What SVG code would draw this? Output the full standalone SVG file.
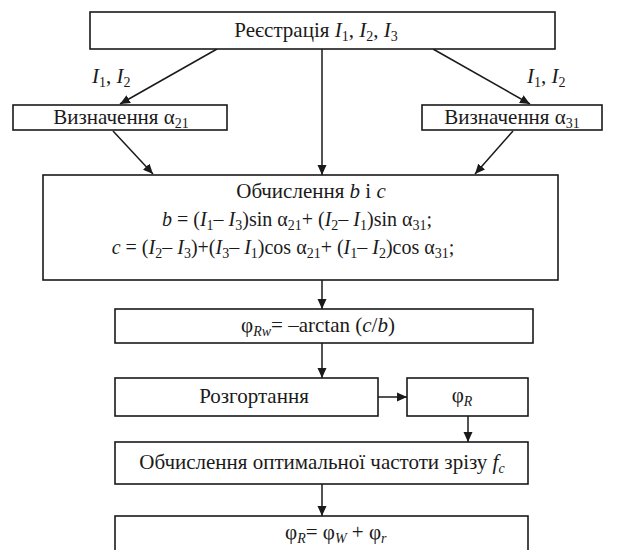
<svg xmlns="http://www.w3.org/2000/svg" width="638" height="550" viewBox="0 0 638 550">
<defs>
<marker id="ah" viewBox="0 0 10 10" refX="10" refY="5" markerWidth="10" markerHeight="10" markerUnits="userSpaceOnUse" orient="auto">
<path d="M0,0.5 L10,5 L0,9.5 Z" fill="#1a1a1a"/>
</marker>
<style>
.box{fill:#fff;stroke:#1a1a1a;stroke-width:1.6}
.t{font-family:"Liberation Serif","Times New Roman",serif;font-size:21px;fill:#1a1a1a}
.f{font-size:20px}
.c{text-anchor:middle}
.i{font-style:italic}
.s{font-size:14px}
.conn line{stroke:#1a1a1a;stroke-width:1.5;marker-end:url(#ah)}
</style>
</defs>
<rect width="638" height="550" fill="#fff"/>
<g class="conn">
<line x1="217" y1="49" x2="120" y2="104"/>
<line x1="433" y1="49" x2="530" y2="104"/>
<line x1="322" y1="49" x2="322" y2="175"/>
<line x1="113" y1="131" x2="153" y2="174"/>
<line x1="513" y1="131" x2="475" y2="174"/>
<line x1="322" y1="280" x2="322" y2="309"/>
<line x1="322" y1="343" x2="322" y2="378"/>
<line x1="378" y1="397" x2="407" y2="397"/>
<line x1="468" y1="416" x2="468" y2="442"/>
<line x1="322" y1="484" x2="322" y2="516"/>
</g>
<g id="reg">
<rect class="box" x="90" y="12" width="465" height="37"/>
<text class="t c" x="316" y="37">Реєстрація <tspan class="i">I</tspan><tspan class="s" dy="4">1</tspan><tspan dy="-4">, </tspan><tspan class="i">I</tspan><tspan class="s" dy="4">2</tspan><tspan dy="-4">, </tspan><tspan class="i">I</tspan><tspan class="s" dy="4">3</tspan></text>
</g>
<g id="lbl-left">
<text class="t" x="92" y="83"><tspan class="i">I</tspan><tspan class="s" dy="4">1</tspan><tspan dy="-4">, </tspan><tspan class="i">I</tspan><tspan class="s" dy="4">2</tspan></text>
</g>
<g id="lbl-right">
<text class="t" x="527" y="83"><tspan class="i">I</tspan><tspan class="s" dy="4">1</tspan><tspan dy="-4">, </tspan><tspan class="i">I</tspan><tspan class="s" dy="4">2</tspan></text>
</g>
<g id="a21">
<rect class="box" x="13" y="105" width="214" height="25"/>
<text class="t c" x="121" y="124">Визначення α<tspan class="s" dy="4">21</tspan></text>
</g>
<g id="a31">
<rect class="box" x="422" y="105" width="180" height="25"/>
<text class="t c" x="512" y="124">Визначення α<tspan class="s" dy="4">31</tspan></text>
</g>
<g id="bc">
<rect class="box" x="43" y="175" width="515" height="105"/>
<text class="t c" x="311" y="198">Обчислення <tspan class="i">b</tspan> і <tspan class="i">c</tspan></text>
<text class="t f c" x="297" y="226"><tspan class="i">b</tspan> = (<tspan class="i">I</tspan><tspan class="s" dy="4">1</tspan><tspan dy="-4">– </tspan><tspan class="i">I</tspan><tspan class="s" dy="4">3</tspan><tspan dy="-4">)sin α</tspan><tspan class="s" dy="4">21</tspan><tspan dy="-4">+ (</tspan><tspan class="i">I</tspan><tspan class="s" dy="4">2</tspan><tspan dy="-4">– </tspan><tspan class="i">I</tspan><tspan class="s" dy="4">1</tspan><tspan dy="-4">)sin α</tspan><tspan class="s" dy="4">31</tspan><tspan dy="-4">;</tspan></text>
<text class="t f c" x="283" y="254"><tspan class="i">c</tspan> = (<tspan class="i">I</tspan><tspan class="s" dy="4">2</tspan><tspan dy="-4">– </tspan><tspan class="i">I</tspan><tspan class="s" dy="4">3</tspan><tspan dy="-4">)+(</tspan><tspan class="i">I</tspan><tspan class="s" dy="4">3</tspan><tspan dy="-4">– </tspan><tspan class="i">I</tspan><tspan class="s" dy="4">1</tspan><tspan dy="-4">)cos α</tspan><tspan class="s" dy="4">21</tspan><tspan dy="-4">+ (</tspan><tspan class="i">I</tspan><tspan class="s" dy="4">1</tspan><tspan dy="-4">– </tspan><tspan class="i">I</tspan><tspan class="s" dy="4">2</tspan><tspan dy="-4">)cos α</tspan><tspan class="s" dy="4">31</tspan><tspan dy="-4">;</tspan></text>
</g>
<g id="phirw">
<rect class="box" x="115" y="309" width="418" height="34"/>
<text class="t c" x="318" y="332">φ<tspan class="s i" dy="4">Rw</tspan><tspan dy="-4">= –arctan (</tspan><tspan class="i">c</tspan>/<tspan class="i">b</tspan>)</text>
</g>
<g id="unwrap">
<rect class="box" x="115" y="378" width="263" height="38"/>
<text class="t c" x="254" y="403">Розгортання</text>
</g>
<g id="phir">
<rect class="box" x="407" y="378" width="121" height="38"/>
<text class="t c" x="462" y="402">φ<tspan class="s i" dy="4">R</tspan></text>
</g>
<g id="fc">
<rect class="box" x="115" y="442" width="413" height="42"/>
<text class="t c" x="322" y="469">Обчислення оптимальної частоти зрізу <tspan class="i">f</tspan><tspan class="s i" dy="4">c</tspan></text>
</g>
<g id="sum">
<rect class="box" x="115" y="516" width="413" height="44"/>
<text class="t" x="285" y="539">φ<tspan class="s i" dy="4">R</tspan><tspan dy="-4">= φ</tspan><tspan class="s i" dy="4">W</tspan><tspan dy="-4"> + φ</tspan><tspan class="s i" dy="4">r</tspan></text>
</g>
</svg>
